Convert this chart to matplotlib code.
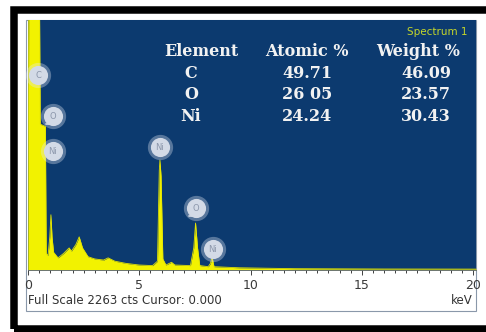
import matplotlib
matplotlib.use("Agg")
import matplotlib.pyplot as plt
from matplotlib.patches import Rectangle
from matplotlib.ticker import MultipleLocator

# spectrum (keV, counts)
energy = [0.00, 0.04, 0.50, 0.55, 0.78, 0.82, 0.90, 0.98, 1.03, 1.08, 1.15, 1.35,
          1.60, 1.85, 1.95, 2.15, 2.30, 2.45, 2.70, 3.00, 3.40, 3.60, 3.90, 4.40,
          5.00, 5.60, 5.82, 5.90, 5.93, 5.98, 6.06, 6.20, 6.45, 6.60, 7.30, 7.45,
          7.53, 7.62, 7.72, 8.10, 8.20, 8.27, 8.36, 9.50, 12.0, 16.0, 20.2]
counts = [0, 3000, 3000, 1320, 1300, 150, 130, 300, 500, 300, 160, 110,
          150, 200, 170, 230, 300, 200, 120, 100, 90, 110, 80, 60,
          45, 40, 80, 900, 995, 850, 100, 45, 70, 45, 40, 200,
          425, 200, 40, 30, 60, 120, 30, 20, 12, 9, 8]

full_scale = 2263
kev_ticks = [0, 5, 10, 15, 20]
peak_names = ["C", "O", "Ni", "Ni", "O", "Ni"]
peak_e = [0.45, 1.12, 1.12, 5.93, 7.55, 8.31]
peak_c = [1765, 1394, 1077, 1113, 561, 190]

elements = ["C", "O", "Ni"]
atomic = ["49.71", "26 05", "24.24"]
weight = ["46.09", "23.57", "30.43"]

W, H = 486, 332
blue = "#0c3a6f"
yellow = "#f2f200"

fig = plt.figure(figsize=(W / 100, H / 100), dpi=100)
fig.patch.set_facecolor("white")


def fx(x):
    return x / W


def fy(y):
    return 1 - y / H


# outer black frame and the white instrument panel
fig.add_artist(Rectangle((fx(13.5), fy(328.5)), fx(495 - 13.5), (328.5 - 10) / H,
                         fill=False, ec="black", lw=5.4, clip_on=False, zorder=5))
fig.add_artist(Rectangle((fx(26), fy(311)), fx(450), 291 / H,
                         fc="white", ec="#8a98aa", lw=0.8, zorder=-2))

ax = fig.add_axes([fx(28), fy(270), fx(448), 250 / H])
ax.set_facecolor(blue)
ax.fill_between(energy, counts, 0, color=yellow, lw=0)
ax.plot(energy, counts, color="#e4e400", lw=0.6)
ax.set_xlim(0, 448 / 22.25)
ax.set_ylim(0, full_scale)

for s in ["top", "left", "right"]:
    ax.spines[s].set_visible(False)
ax.spines["bottom"].set_color("#55606e")
ax.spines["bottom"].set_linewidth(0.6)
ax.set_yticks([])
ax.set_xticks(kev_ticks)
ax.set_xticklabels([str(k) for k in kev_ticks])
ax.xaxis.set_minor_locator(MultipleLocator(0.5))
ax.tick_params(axis="x", which="both", direction="out", color="#404040",
               width=0.7, labelsize=9, labelcolor="#3a3a3a", pad=3)
ax.tick_params(axis="x", which="major", length=3.5)
ax.tick_params(axis="x", which="minor", length=2.5)

# peak markers
ax.scatter(peak_e, peak_c, s=330, color="#e4e9f2", alpha=0.35, lw=0, clip_on=False, zorder=4)
ax.scatter(peak_e, peak_c, s=190, color="#d3dae6", lw=0, clip_on=False, zorder=5)
for name, e, c in zip(peak_names, peak_e, peak_c):
    ax.text(e, c, name, ha="center", va="center", fontsize=6, color="#8c97ab",
            zorder=6, clip_on=False)
    if name == "O":
        ax.annotate("", xy=(e, c), xytext=(-7, -6), textcoords="offset points",
                    arrowprops=dict(arrowstyle="-", color="#d0d6e0", lw=1.2,
                                    connectionstyle="angle,angleA=0,angleB=90,rad=0"))

# composition table
serif = dict(family="DejaVu Serif", weight="bold", color="#f2f2f2", fontsize=11.5)
fig.text(fx(201), fy(56), "Element", ha="center", va="baseline", **serif)
fig.text(fx(307), fy(56), "Atomic %", ha="center", va="baseline", **serif)
fig.text(fx(418), fy(56), "Weight %", ha="center", va="baseline", **serif)
for i, (el, a, w) in enumerate(zip(elements, atomic, weight)):
    base = 78 + i * 21.5
    fig.text(fx(191), fy(base), el, ha="center", va="baseline", **serif)
    fig.text(fx(307), fy(base), a, ha="center", va="baseline", **serif)
    fig.text(fx(426), fy(base), w, ha="center", va="baseline", **serif)

fig.text(fx(467), fy(32), "Spectrum 1", ha="right", va="center", fontsize=7.5,
         color="#c4d62a")
fig.text(fx(28), fy(300), "Full Scale 2263 cts Cursor: 0.000", ha="left", va="center",
         fontsize=8.5, color="#333333")
fig.text(fx(473), fy(300), "keV", ha="right", va="center", fontsize=8.5, color="#333333")

fig.savefig("out.png", dpi=100)
